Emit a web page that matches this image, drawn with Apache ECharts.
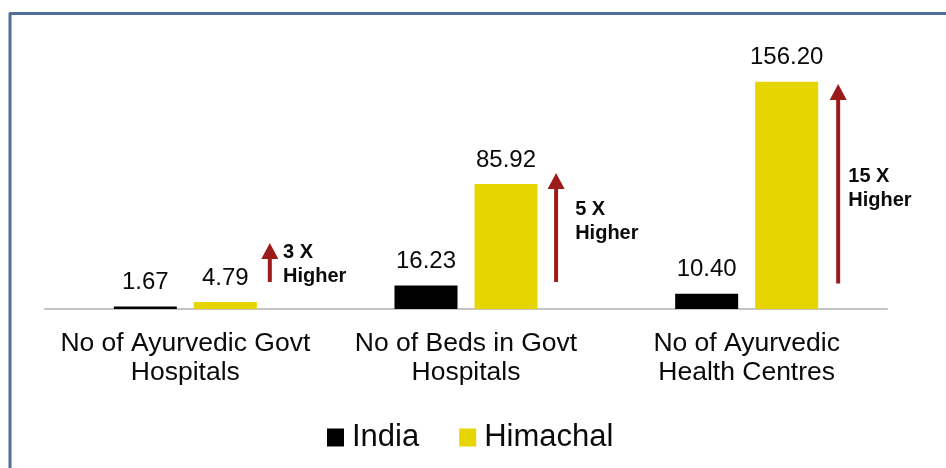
<!DOCTYPE html>
<html><head><meta charset="utf-8">
<script src="https://cdn.jsdelivr.net/npm/echarts@6/dist/echarts.min.js"></script>
<style>html,body{margin:0;padding:0;background:#fff}#c{width:946px;height:468px}</style>
</head><body><div id="c"></div>
<script>
const categories = ['No of Ayurvedic Govt\nHospitals', 'No of Beds in Govt\nHospitals', 'No of Ayurvedic\nHealth Centres'];
const indiaValues = [1.67, 16.23, 10.40];
const himachalValues = [4.79, 85.92, 156.20];
// annotation arrows (x on a hidden 0..2 category-index scale, y in data units)
const arrowX = [0.301, 1.321, 2.326];
const arrowFrom = [18.6, 18.6, 17.5];
const arrowTo = [45.4, 93.5, 154.6];
const noteLabels = ['3 X\nHigher', '5 X\nHigher', '15 X\nHigher'];
const noteX = [0.348, 1.389, 2.362];
const noteTop = [47.4, 76.3, 99];

const FONT = '"Liberation Sans", Arial, sans-serif';
const ARROW = '#9B1B1B';
const chart = echarts.init(document.getElementById('c'), null, {renderer: 'canvas'});
chart.setOption({
  animation: false,
  backgroundColor: '#ffffff',
  textStyle: {fontFamily: FONT},
  graphic: [{
    type: 'polyline',
    shape: {points: [[10, 470], [10, 13.5], [950, 13.5]]},
    style: {stroke: '#4F7196', lineWidth: 3, fill: null, lineJoin: 'round'},
    silent: true
  }],
  grid: {left: 45, right: 59, top: 18, bottom: 159},
  legend: {
    data: ['India', 'Himachal'],
    left: 322, top: 417,
    icon: 'rect', itemWidth: 17, itemHeight: 18, itemGap: 40,
    textStyle: {fontSize: 31, color: '#0a0a0a', fontFamily: FONT, padding: [0, 0, 0, 3]}
  },
  xAxis: [{
    type: 'category',
    data: categories,
    axisTick: {show: false},
    axisLine: {lineStyle: {color: '#C4C4C4', width: 2}},
    axisLabel: {interval: 0, fontSize: 26.5, lineHeight: 29, color: '#0a0a0a', margin: 20, fontFamily: FONT}
  }, {
    type: 'value', min: -0.5, max: 2.5, show: false
  }],
  yAxis: {type: 'value', min: 0, max: 200, show: false},
  series: [{
    name: 'India', type: 'bar', data: indiaValues,
    barWidth: 63, barGap: '27%',
    itemStyle: {color: '#000000'},
    label: {show: true, position: 'top', distance: 12, fontSize: 24, color: '#0a0a0a', fontFamily: FONT,
      formatter: p => p.value.toFixed(2)}
  }, {
    name: 'Himachal', type: 'bar', data: himachalValues,
    barWidth: 63,
    itemStyle: {color: '#E6D500'},
    label: {show: true, position: 'top', distance: 12, fontSize: 24, color: '#0a0a0a', fontFamily: FONT,
      formatter: p => p.value.toFixed(2)}
  }, {
    type: 'custom', xAxisIndex: 1, yAxisIndex: 0, silent: true,
    data: arrowX.map((x, i) => [x, arrowFrom[i], arrowTo[i], noteX[i], noteTop[i]]),
    renderItem: function (params, api) {
      const p0 = api.coord([api.value(0), api.value(1)]);
      const p1 = api.coord([api.value(0), api.value(2)]);
      const t = api.coord([api.value(3), api.value(4)]);
      const headH = 16, headW = 17;
      return {type: 'group', children: [
        {type: 'line', shape: {x1: p0[0], y1: p0[1], x2: p1[0], y2: p1[1] + headH - 1},
          style: {stroke: ARROW, lineWidth: 4}},
        {type: 'polygon', shape: {points: [[p1[0], p1[1]], [p1[0] - headW / 2, p1[1] + headH], [p1[0] + headW / 2, p1[1] + headH]]},
          style: {fill: ARROW}},
        {type: 'text', x: t[0], y: t[1],
          style: {text: noteLabels[params.dataIndex], fontSize: 20, fontWeight: 'bold', fontFamily: FONT,
            lineHeight: 24, fill: '#0a0a0a', align: 'left', verticalAlign: 'top'}}
      ]};
    }
  }]
});
</script></body></html>
